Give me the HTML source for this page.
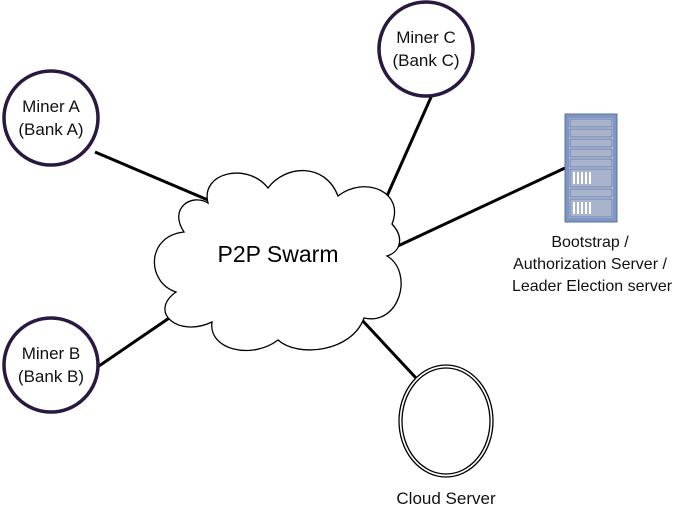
<!DOCTYPE html>
<html><head><style>body{margin:0;background:#fff}svg{display:block}</style></head><body>
<svg width="685" height="508" xmlns="http://www.w3.org/2000/svg" font-family="Liberation Sans, sans-serif">
<g stroke="#000" stroke-width="3">
<line x1="95" y1="152" x2="208" y2="200"/>
<line x1="432" y1="95" x2="383" y2="205"/>
<line x1="565" y1="168" x2="385" y2="252"/>
<line x1="96" y1="368" x2="178" y2="312"/>
<line x1="362" y1="320" x2="416" y2="378"/>
</g>
<path d="M208,203 C200,172 248,162 268,188 C285,165 325,162 338,196 C365,175 405,192 392,224 C405,238 400,252 387,256 C414,272 400,326 364,318 C352,352 298,358 278,340 C252,360 208,350 212,322 C178,338 148,312 176,292 C146,282 146,236 184,232 C168,208 192,193 208,203 Z" fill="#fff" stroke="#000" stroke-width="1.3"/>
<text x="278" y="262" font-size="23" text-anchor="middle">P2P Swarm</text>
<g fill="#fff" stroke="#2a1840" stroke-width="3.5">
<circle cx="51" cy="118" r="47"/>
<circle cx="426" cy="49" r="47"/>
<circle cx="51" cy="365" r="47"/>
</g>
<g font-size="17" text-anchor="middle" fill="#111">
<text x="51" y="112">Miner A</text><text x="51" y="135">(Bank A)</text>
<text x="426" y="43">Miner C</text><text x="426" y="66">(Bank C)</text>
<text x="51" y="359">Miner B</text><text x="51" y="382">(Bank B)</text>
<text x="446" y="504">Cloud Server</text>
</g>
<g fill="none" stroke="#000" stroke-width="1.3">
<ellipse cx="446" cy="421" rx="47" ry="56"/>
<ellipse cx="446" cy="421" rx="44" ry="53"/>
</g>
<g>
<rect x="565" y="114" width="52" height="108" fill="#7f95c4" stroke="#5a6fa0"/>
<rect x="569" y="118" width="44" height="100" fill="#c8d0e0"/>
<g fill="#a9b4cc" stroke="#6a7fb0" stroke-width="1">
<rect x="570" y="119" width="42" height="8"/><rect x="570" y="129" width="42" height="8"/>
<rect x="570" y="139" width="42" height="8"/><rect x="570" y="149" width="42" height="8"/>
<rect x="570" y="159" width="42" height="8"/><rect x="570" y="169" width="42" height="18"/>
<rect x="570" y="189" width="42" height="8"/><rect x="570" y="199" width="42" height="18"/>
</g>
<g fill="#fff">
<rect x="573" y="172" width="2" height="12"/><rect x="577" y="172" width="2" height="12"/><rect x="581" y="172" width="2" height="12"/><rect x="585" y="172" width="2" height="12"/><rect x="589" y="172" width="2" height="12"/>
<rect x="573" y="202" width="2" height="12"/><rect x="577" y="202" width="2" height="12"/><rect x="581" y="202" width="2" height="12"/><rect x="585" y="202" width="2" height="12"/><rect x="589" y="202" width="2" height="12"/>
</g>
</g>
<g font-size="16" text-anchor="middle" fill="#111">
<text x="590" y="247">Bootstrap /</text>
<text x="590" y="269">Authorization Server /</text>
<text x="592" y="291">Leader Election server</text>
</g>
</svg>
</body></html>
